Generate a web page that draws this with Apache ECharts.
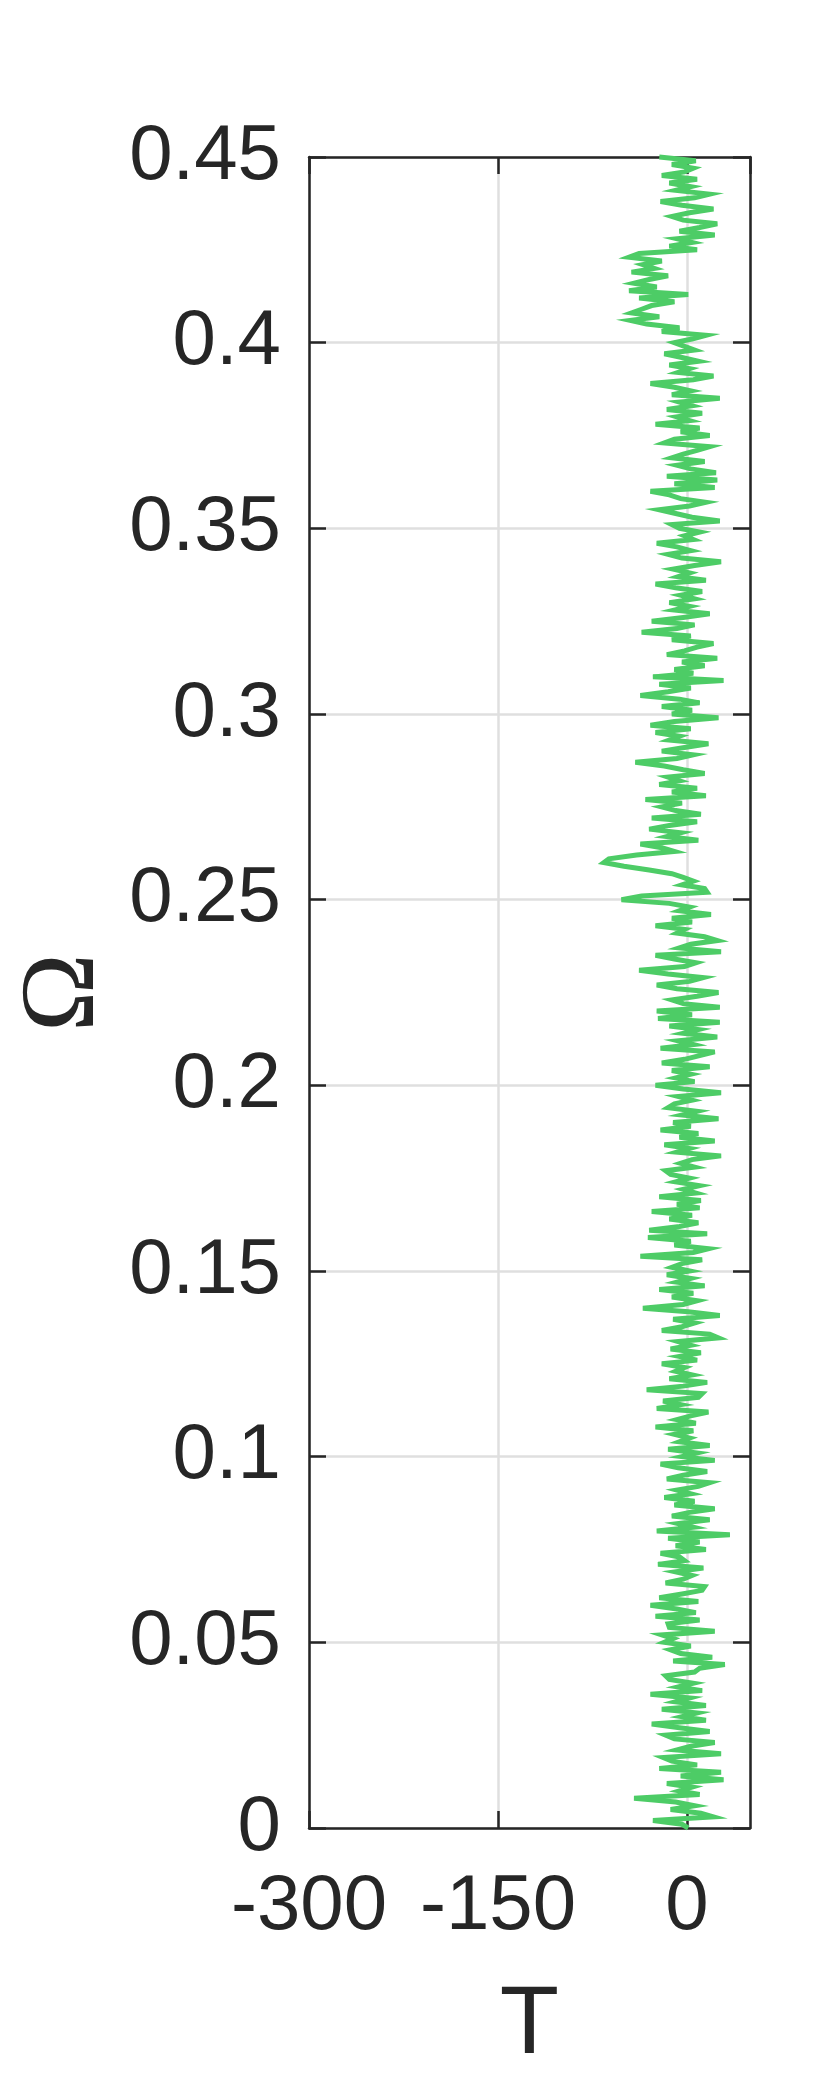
<!DOCTYPE html>
<html>
<head>
<meta charset="utf-8">
<title>T vs Omega</title>
<script src="https://cdn.jsdelivr.net/npm/echarts@6/dist/echarts.min.js"></script>
<style>
  html, body { margin: 0; padding: 0; background: #fff; }
  #main { width: 830px; height: 2078px; }
</style>
</head>
<body>
<div id="main"></div>
<script>
// Omega sampled from 0 to 0.45, one value of T per step
var omegaStart = 0;
var omegaStep = 0.001;

// T values, one row = 0.01 of Omega
var tValues = [
  1, -4, -27, 21, 11, -13, 6, -9, -42, 10,        // 0.00
  -6, 4, -16, 29, -5, 27, -22, 8, -12, -19,       // 0.01
  27, -8, 3, 22, -10, -17, 18, -6, -28, 15,       // 0.02
  -4, 8, -20, 15, -9, 2, -29, 12, -7, 5,          // 0.03
  -14, -17, 6, 10, 30, -11, 20, -5, -13, 3,       // 0.04
  -18, -11, -20, 22, -14, -15, 10, -25, 7, -8,    // 0.05
  -29, 9, -22, -4, 12, 14, -17, -3, 4, -9,        // 0.06
  13, -23, -2, -6, -21, 15, -9, 10, -15, 34,      // 0.07
  -24, 5, -7, 18, -12, 2, 22, -10, 6, -18,        // 0.08
  3, -8, 9, 18, -16, -3, 16, -7, -21, 22,         // 0.09
  -4, 8, -15, 18, -6, 2, -10, 5, -25, 7,          // 0.10
  -8, 3, 17, -24, -5, -19, 9, 12, -32, -3,        // 0.11
  16, -14, 4, -9, -2, -20, 8, -6, 11, -13,        // 0.12
  3, -7, 25, 18, -20, -4, 6, -11, 26, 1,          // 0.13
  -35, -3, 8, -12, 5, -22, 14, -8, 3, -16,        // 0.14
  2, -12, -4, 12, -37, 5, 17, -10, 3, -31,        // 0.15
  16, -30, -6, 9, -14, 4, -28, 10, -8, 11,        // 0.16
  -22, 7, -3, 10, -9, 2, -13, -17, 6, -5,         // 0.17
  4, 27, -8, 2, -18, 22, -6, 9, -21, 3,           // 0.18
  -11, 25, -4, 8, -15, -10, 4, -7, 27, -3,        // 0.19
  -25, 6, -9, 3, -12, 18, -20, -2, 10, 22,        // 0.20
  -21, 5, -7, 24, -3, 9, -14, 26, -23, 4,         // 0.21
  -24, 26, -3, -12, 8, 25, -8, -24, 2, 13,        // 0.22
  -15, -38, -2, 7, -10, -25, 27, -6, 3, 24,       // 0.23
  14, -8, -2, -25, 4, -12, 19, -6, 2, -14,        // 0.24
  -52, -36, 16, 14, -4, 5, -3, -12, -30, -50,     // 0.25
  -66, -62, -40, -10, -20, -37, 9, -16, -5, -30,  // 0.26
  -14, 8, -28, 11, -9, -20, -4, -33, 15, -12,     // 0.27
  8, -22, -6, -15, 14, -3, -18, -41, -8, 5,       // 0.28
  -20, -2, 17, -14, -6, -25, 3, -29, -10, 25,     // 0.29
  -12, 4, -20, 10, -6, -37, -15, 3, -22, 29,      // 0.30
  -27, 5, -10, 14, -4, 24, -16, -2, 8, 21,        // 0.31
  -12, 3, -36, -8, 6, -28, -3, 18, -10, 2,        // 0.32
  -14, 6, -5, 12, -9, -25, 15, -7, 2, -11,        // 0.33
  6, 27, -4, -15, 3, -8, -24, 5, -2, 10,          // 0.34
  -6, -12, 26, 4, -9, -22, 2, 15, -5, -14,        // 0.35
  -29, 22, -10, 24, -16, 23, 3, -8, 14, -12,      // 0.36
  -3, 8, 18, -18, -10, 18, -5, 10, -25, 2,        // 0.37
  -8, 12, -16, 4, -6, 26, -12, 3, -10, -29,       // 0.38
  5, 21, -7, 2, -14, 9, -4, -18, 6, -2,           // 0.39
  -10, 4, 15, -20, -6, -32, -45, -22, -44, -36,   // 0.40
  -28, -10, -38, 1, -46, -24, -42, -30, -15, -44, // 0.41
  -26, -35, -20, -46, -38, 8, -14, 4, -8, 22,     // 0.42
  -6, 10, 24, -3, -12, 2, 21, -4, -21, 6,         // 0.43
  18, -9, 3, -14, 8, -20, -2, 5, -12, 7,          // 0.44
  -22                                             // 0.45
];

var xTicks = [-300, -150, 0];
var yTicks = [0, 0.05, 0.1, 0.15, 0.2, 0.25, 0.3, 0.35, 0.4, 0.45];

var lineData = [];
for (var i = 0; i < tValues.length; i++) {
  lineData.push([tValues[i], +(omegaStart + i * omegaStep).toFixed(3)]);
}

var textColor = '#262626';
var sansFont = '"Liberation Sans", Arial, Helvetica, sans-serif';

var chart = echarts.init(document.getElementById('main'), null, { renderer: 'canvas' });

var axisLineStyle = { color: textColor, width: 2.5 };
var tickStyle = { show: true, inside: true, length: 17, lineStyle: { color: textColor, width: 2.5 } };

var option = {
  animation: false,
  backgroundColor: '#ffffff',
  grid: { left: 309, right: 80, top: 157, bottom: 250, containLabel: false, outerBoundsMode: 'none' },
  xAxis: [{
    type: 'value',
    position: 'bottom',
    min: -300,
    max: 50,
    interval: 150,
    name: 'T',
    nameLocation: 'middle',
    nameGap: 150,
    nameTextStyle: { fontFamily: sansFont, fontSize: 97, color: textColor },
    axisLine: { show: true, onZero: false, lineStyle: axisLineStyle },
    axisTick: tickStyle,
    axisLabel: {
      fontFamily: sansFont, fontSize: 78, color: textColor, margin: 40,
      showMaxLabel: false,
      formatter: function (v) { return xTicks.indexOf(v) >= 0 ? String(v) : ''; }
    },
    splitLine: { show: true, lineStyle: { color: '#dfdfdf', width: 2.5 } }
  }, {
    type: 'value',
    position: 'top',
    min: -300,
    max: 50,
    interval: 150,
    axisLine: { show: true, onZero: false, lineStyle: axisLineStyle },
    axisTick: tickStyle,
    axisLabel: { show: false },
    splitLine: { show: false }
  }],
  yAxis: [{
    type: 'value',
    position: 'left',
    min: 0,
    max: 0.45,
    interval: 0.05,
    name: 'Ω',
    nameLocation: 'middle',
    nameRotate: 90,
    nameGap: 185,
    nameTextStyle: { fontFamily: '"Liberation Serif", "Times New Roman", serif', fontSize: 106, color: textColor },
    axisLine: { show: true, onZero: false, lineStyle: axisLineStyle },
    axisTick: tickStyle,
    axisLabel: {
      fontFamily: sansFont, fontSize: 78, color: textColor, margin: 28,
      formatter: function (v) { return String(+v.toFixed(2)); }
    },
    splitLine: { show: true, lineStyle: { color: '#dfdfdf', width: 2.5 } }
  }, {
    type: 'value',
    position: 'right',
    min: 0,
    max: 0.45,
    interval: 0.05,
    axisLine: { show: true, onZero: false, lineStyle: axisLineStyle },
    axisTick: tickStyle,
    axisLabel: { show: false },
    splitLine: { show: false }
  }],
  series: [{
    type: 'line',
    xAxisIndex: 0,
    yAxisIndex: 0,
    data: lineData,
    showSymbol: false,
    symbol: 'none',
    clip: false,
    lineStyle: { color: '#4dcc66', width: 5, join: 'miter', miterLimit: 6 },
    z: 5
  }]
};

chart.setOption(option);
</script>
</body>
</html>
